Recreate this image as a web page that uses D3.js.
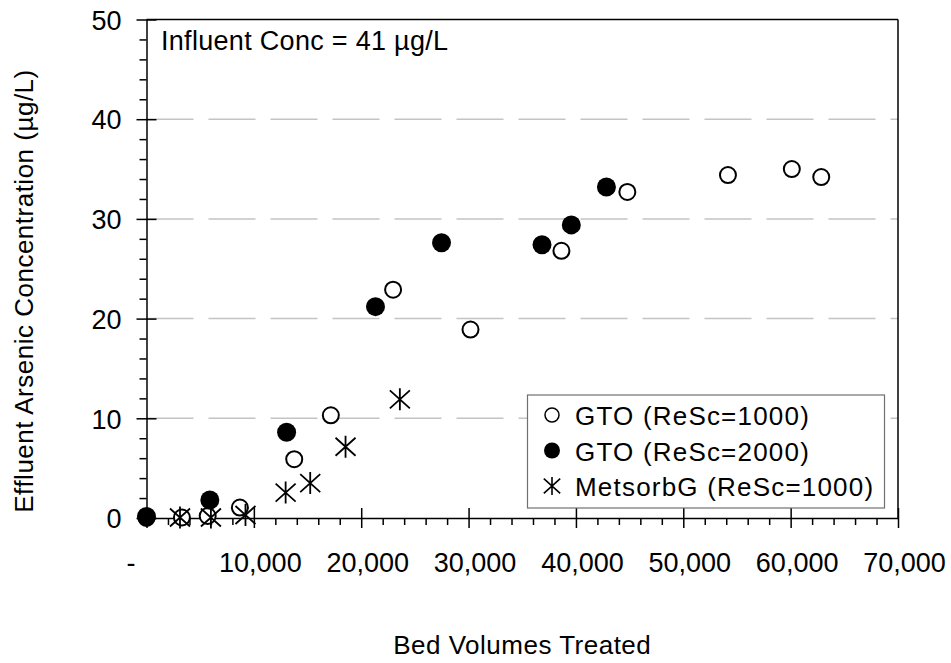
<!DOCTYPE html>
<html>
<head>
<meta charset="utf-8">
<script src="https://cdn.jsdelivr.net/npm/d3@7"></script>
<style>
  body { margin: 0; background: #fff; }
  text { font-family: "Liberation Sans", Arial, sans-serif; fill: #000; }
</style>
</head>
<body>
<div id="chart"></div>
<script>
// GTO (ReSc=1000) - open circles
var gto1000X = [0, 3300, 5700, 8700, 13760, 17170, 22970, 30180, 38650, 44790, 54160, 60110, 62850];
var gto1000Y = [0, 0.05, 0.2, 1.05, 5.9, 10.3, 22.9, 18.9, 26.8, 32.7, 34.4, 35.0, 34.2];
// GTO (ReSc=2000) - filled circles
var gto2000X = [0, 5900, 13050, 21330, 27480, 36840, 39570, 42840];
var gto2000Y = [0.15, 1.8, 8.6, 21.2, 27.6, 27.4, 29.4, 33.2];
// MetsorbG (ReSc=1000) - asterisks
var metsorbX = [3120, 6000, 9220, 12960, 15250, 18540, 23600];
var metsorbY = [0.05, 0.05, 0.3, 2.55, 3.5, 7.15, 11.9];

var seriesNames = ["GTO (ReSc=1000)", "GTO (ReSc=2000)", "MetsorbG (ReSc=1000)"];
var xTicks = [0, 10000, 20000, 30000, 40000, 50000, 60000, 70000];
var yTicks = [0, 10, 20, 30, 40, 50];

(function() {
  var width = 951, height = 663;
  // plot area edges
  var pLeft = 146.5, pRight = 898, pTop = 19.5, pBottom = 518;

  var svg = d3.select("#chart").append("svg")
      .attr("width", width)
      .attr("height", height);

  var x = d3.scaleLinear().domain([0, 70000]).range([pLeft, pRight]);
  var y = d3.scaleLinear().domain([0, 50]).range([pBottom, pTop]);

  var zip = function(xs, ys) {
    return xs.map(function(v, i) { return [v, ys[i]]; });
  };

  // dashed gridlines
  svg.append("g").selectAll("line")
    .data(yTicks.filter(function(d) { return d > 0 && d < 50; }))
    .enter().append("line")
      .attr("x1", pLeft).attr("x2", pRight)
      .attr("y1", function(d) { return y(d); })
      .attr("y2", function(d) { return y(d); })
      .attr("stroke", "#c4c4c4")
      .attr("stroke-width", 1.5)
      .attr("stroke-dasharray", "47,15");

  // frame top / right
  svg.append("line").attr("x1", pLeft).attr("x2", pRight).attr("y1", pTop).attr("y2", pTop)
    .attr("stroke", "#000").attr("stroke-width", 1.5);
  svg.append("line").attr("x1", pRight).attr("x2", pRight).attr("y1", pTop).attr("y2", pBottom)
    .attr("stroke", "#000").attr("stroke-width", 1.5);

  // minor ticks
  var xMinor = d3.range(0, 70001, 2000).filter(function(d) { return d % 10000 !== 0; });
  var yMinor = d3.range(0, 51, 2).filter(function(d) { return d % 10 !== 0; });

  svg.append("g")
      .attr("transform", "translate(0," + pBottom + ")")
      .call(d3.axisBottom(x).tickValues(xMinor).tickSize(7).tickFormat(""))
      .call(function(g) { g.select(".domain").remove(); })
      .selectAll("line").attr("stroke-width", 1.5);

  svg.append("g")
      .attr("transform", "translate(" + pLeft + ",0)")
      .call(d3.axisLeft(y).tickValues(yMinor).tickSize(7).tickFormat(""))
      .call(function(g) { g.select(".domain").remove(); })
      .selectAll("line").attr("stroke-width", 1.5);

  // major axes
  var xAxis = svg.append("g")
      .attr("transform", "translate(0," + pBottom + ")")
      .call(d3.axisBottom(x).tickValues(xTicks).tickSizeOuter(0)
        .tickFormat(function(d) { return d === 0 ? "-" : d3.format(",")(d); }));
  xAxis.select(".domain").attr("stroke-width", 1.5);
  xAxis.selectAll(".tick line").attr("y1", -10).attr("y2", 10).attr("stroke-width", 1.5);
  xAxis.selectAll(".tick text")
      .attr("font-size", 27)
      .attr("dy", null)
      .attr("y", 54)
      .attr("x", function(d) { return d === 0 ? -16 : 6; })
      .style("font-family", "'Liberation Sans', Arial, sans-serif");

  var yAxis = svg.append("g")
      .attr("transform", "translate(" + pLeft + ",0)")
      .call(d3.axisLeft(y).tickValues(yTicks).tickSizeOuter(0));
  yAxis.select(".domain").attr("stroke-width", 1.5);
  yAxis.selectAll(".tick line").attr("x1", -10).attr("x2", 10).attr("stroke-width", 1.5);
  yAxis.selectAll(".tick text")
      .attr("font-size", 27)
      .attr("x", -25)
      .attr("dy", "0.36em")
      .style("font-family", "'Liberation Sans', Arial, sans-serif");

  // asterisk path
  var star = function(s) {
    var h = 9 * s, w = 10 * s, v = 11 * s;
    return "M0," + (-v) + "L0," + v +
           "M" + (-w) + "," + (-h) + "L" + w + "," + h +
           "M" + (-w) + "," + h + "L" + w + "," + (-h);
  };

  // open circles
  svg.append("g").selectAll("circle")
    .data(zip(gto1000X, gto1000Y))
    .enter().append("circle")
      .attr("cx", function(d) { return x(d[0]); })
      .attr("cy", function(d) { return y(d[1]); })
      .attr("r", 8)
      .attr("fill", "#fff")
      .attr("stroke", "#000")
      .attr("stroke-width", 2);

  // filled circles
  svg.append("g").selectAll("circle")
    .data(zip(gto2000X, gto2000Y))
    .enter().append("circle")
      .attr("cx", function(d) { return x(d[0]); })
      .attr("cy", function(d) { return y(d[1]); })
      .attr("r", 9.5)
      .attr("fill", "#000");

  // asterisks
  svg.append("g").selectAll("path")
    .data(zip(metsorbX, metsorbY))
    .enter().append("path")
      .attr("transform", function(d) { return "translate(" + x(d[0]) + "," + y(d[1]) + ")"; })
      .attr("d", star(1))
      .attr("fill", "none")
      .attr("stroke", "#000")
      .attr("stroke-width", 1.8);

  // annotation
  svg.append("text")
      .attr("x", 161).attr("y", 50)
      .attr("font-size", 27)
      .style("letter-spacing", "0.3px")
      .text("Influent Conc = 41 µg/L");

  // legend
  var legend = svg.append("g");
  legend.append("rect")
      .attr("x", 527.5).attr("y", 395)
      .attr("width", 357).attr("height", 113)
      .attr("fill", "#fff")
      .attr("stroke", "#707070")
      .attr("stroke-width", 1.2);

  var rows = legend.selectAll("g.row")
    .data(seriesNames)
    .enter().append("g")
      .attr("class", "row")
      .attr("transform", function(d, i) { return "translate(552," + (415 + i * 35.5) + ")"; });

  rows.each(function(d, i) {
    var g = d3.select(this);
    if (i === 0) {
      g.append("circle").attr("r", 7).attr("fill", "#fff").attr("stroke", "#000").attr("stroke-width", 1.5);
    } else if (i === 1) {
      g.append("circle").attr("r", 8).attr("fill", "#000");
    } else {
      g.append("path").attr("d", star(0.82)).attr("fill", "none").attr("stroke", "#000").attr("stroke-width", 1.6);
    }
    g.append("text")
      .attr("x", 23).attr("y", 10)
      .attr("font-size", 26)
      .style("letter-spacing", "1.2px")
      .text(d);
  });

  // axis titles
  svg.append("text")
      .attr("x", (pLeft + pRight) / 2).attr("y", 654)
      .attr("text-anchor", "middle")
      .attr("font-size", 26)
      .style("letter-spacing", "0.5px")
      .text("Bed Volumes Treated");

  svg.append("text")
      .attr("transform", "translate(33,291) rotate(-90)")
      .attr("text-anchor", "middle")
      .attr("font-size", 26)
      .style("letter-spacing", "0.5px")
      .text("Effluent Arsenic Concentration (µg/L)");
})();
</script>
</body>
</html>
